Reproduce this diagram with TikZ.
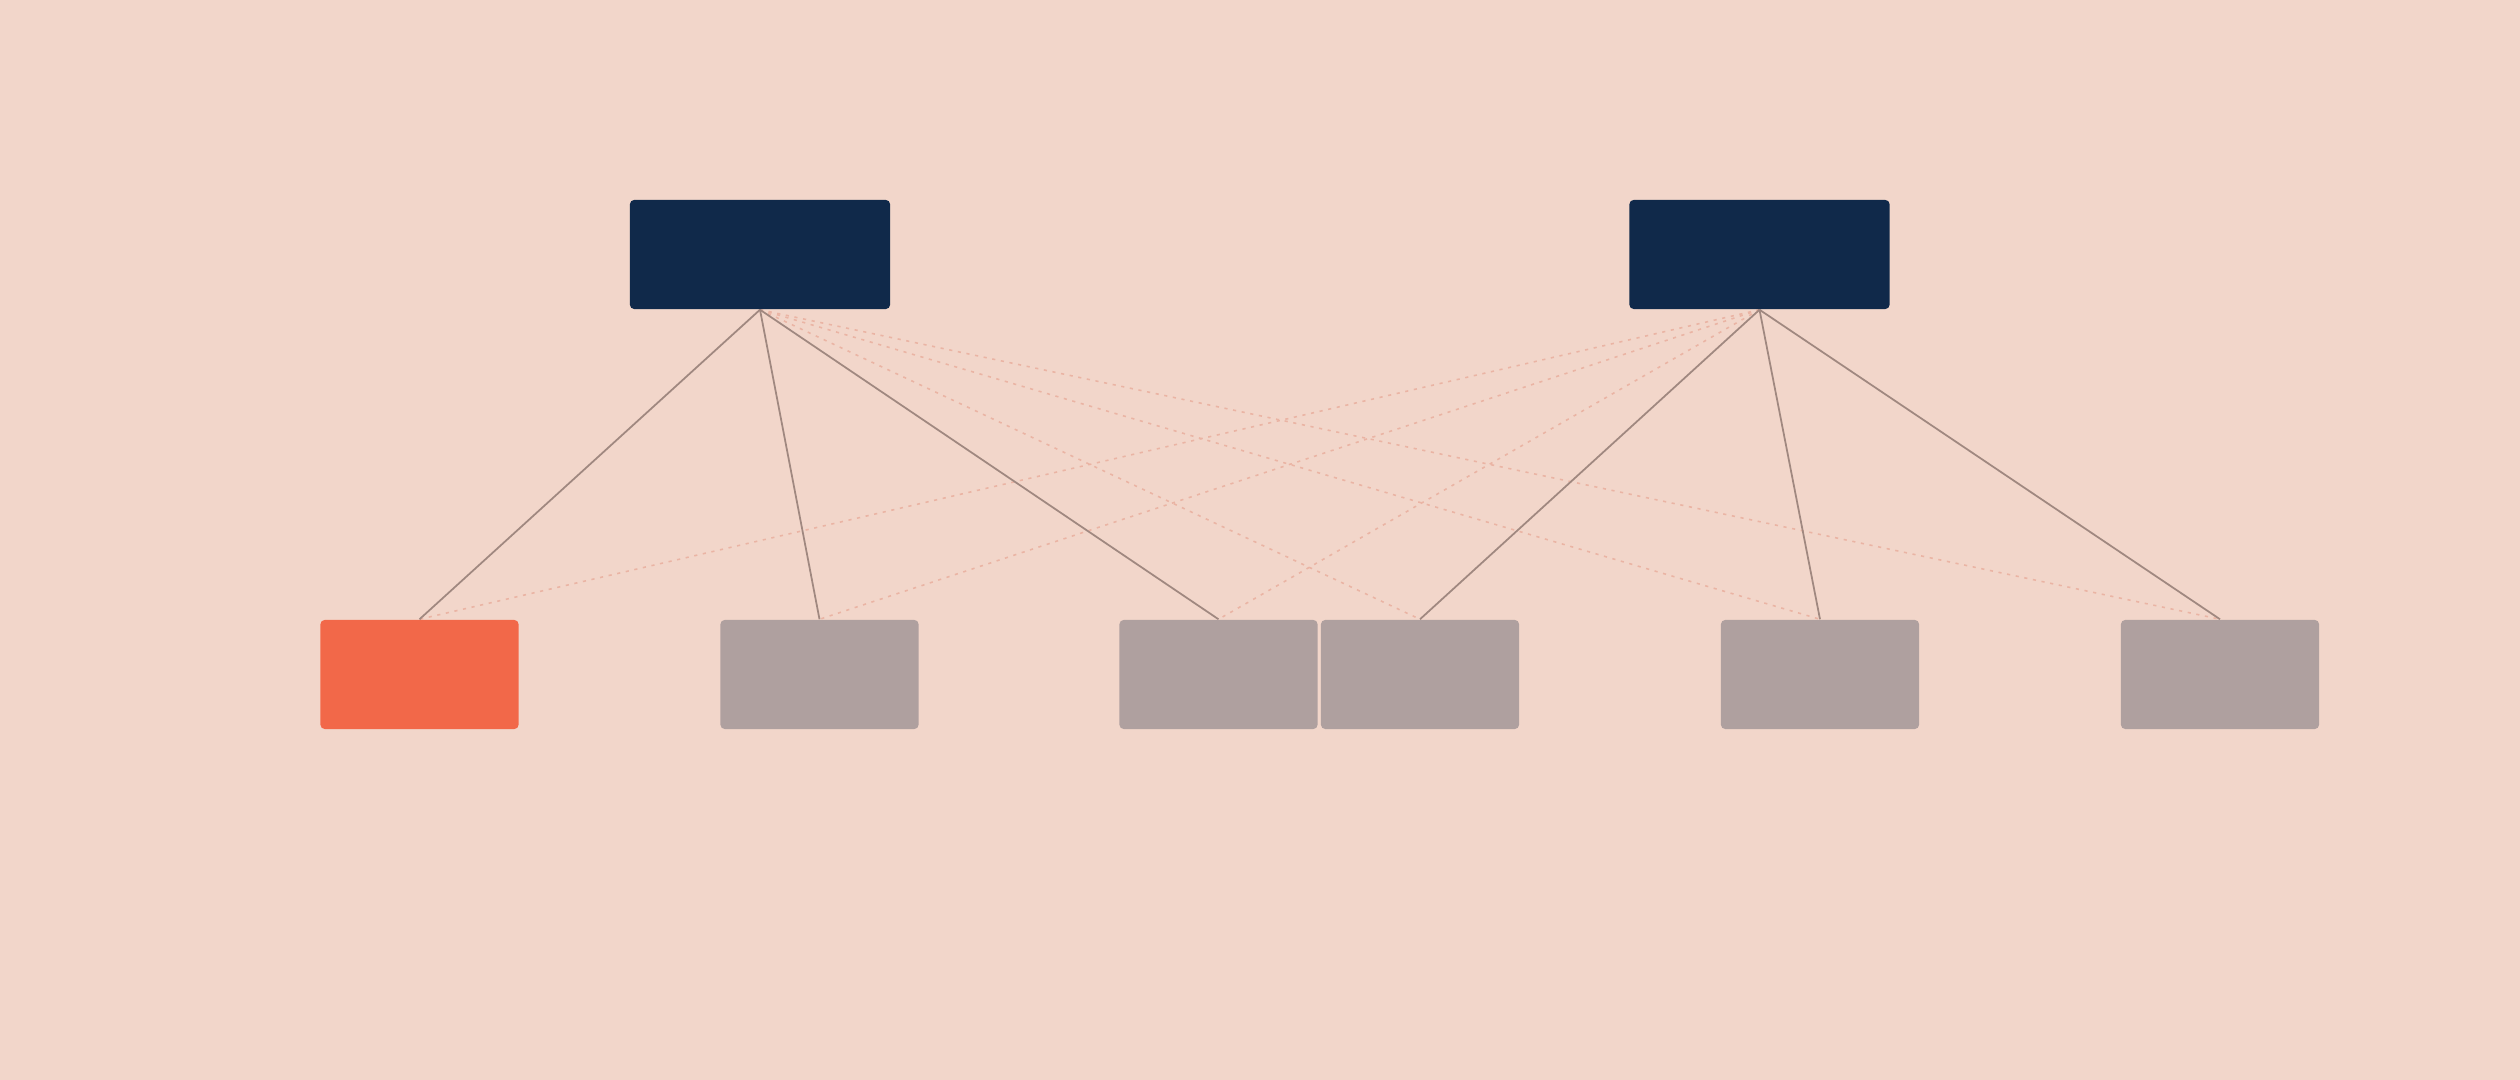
\documentclass[tikz,border=0pt]{standalone}
\usetikzlibrary{backgrounds}
\begin{document}
\begin{tikzpicture}[x=0.01cm,y=-0.01cm,
  bgcol/.style={fill={rgb,255:red,242;green,214;blue,202}},
  topbox/.style={draw=none,fill={rgb,255:red,16;green,41;blue,74},rounded corners=1.2pt,minimum width=2.6cm,minimum height=1.09cm,inner sep=0pt},
  botbox/.style={draw=none,fill={rgb,255:red,175;green,160;blue,159},rounded corners=1.2pt,minimum width=1.98cm,minimum height=1.09cm,inner sep=0pt},
  hilite/.style={fill={rgb,255:red,242;green,104;blue,73}},
  solidlink/.style={draw={rgb,255:red,160;green,136;blue,128},line width=0.5pt},
  faintlink/.style={draw={rgb,255:red,234;green,180;blue,164},line width=0.45pt,dash pattern=on 0.9pt off 1.6pt}]
\useasboundingbox (0,0) rectangle (2520,1080);
\node[topbox] (t1) at (760,254.5) {};
\node[topbox] (t2) at (1759.5,254.5) {};
\node[botbox,hilite] (b1) at (419.5,674.5) {};
\node[botbox] (b2) at (819.5,674.5) {};
\node[botbox] (b3) at (1218.5,674.5) {};
\node[botbox] (b4) at (1420,674.5) {};
\node[botbox] (b5) at (1820,674.5) {};
\node[botbox] (b6) at (2220,674.5) {};
\begin{pgfonlayer}{background}
\fill[bgcol] (0,0) rectangle (2520,1080);
\foreach \b in {b4,b5,b6} \draw[faintlink] (t1.south) -- (\b.north);
\foreach \b in {b1,b2,b3} \draw[faintlink] (t2.south) -- (\b.north);
\foreach \b in {b1,b2,b3} \draw[solidlink] (t1.south) -- (\b.north);
\foreach \b in {b4,b5,b6} \draw[solidlink] (t2.south) -- (\b.north);
\end{pgfonlayer}
\end{tikzpicture}
\end{document}
